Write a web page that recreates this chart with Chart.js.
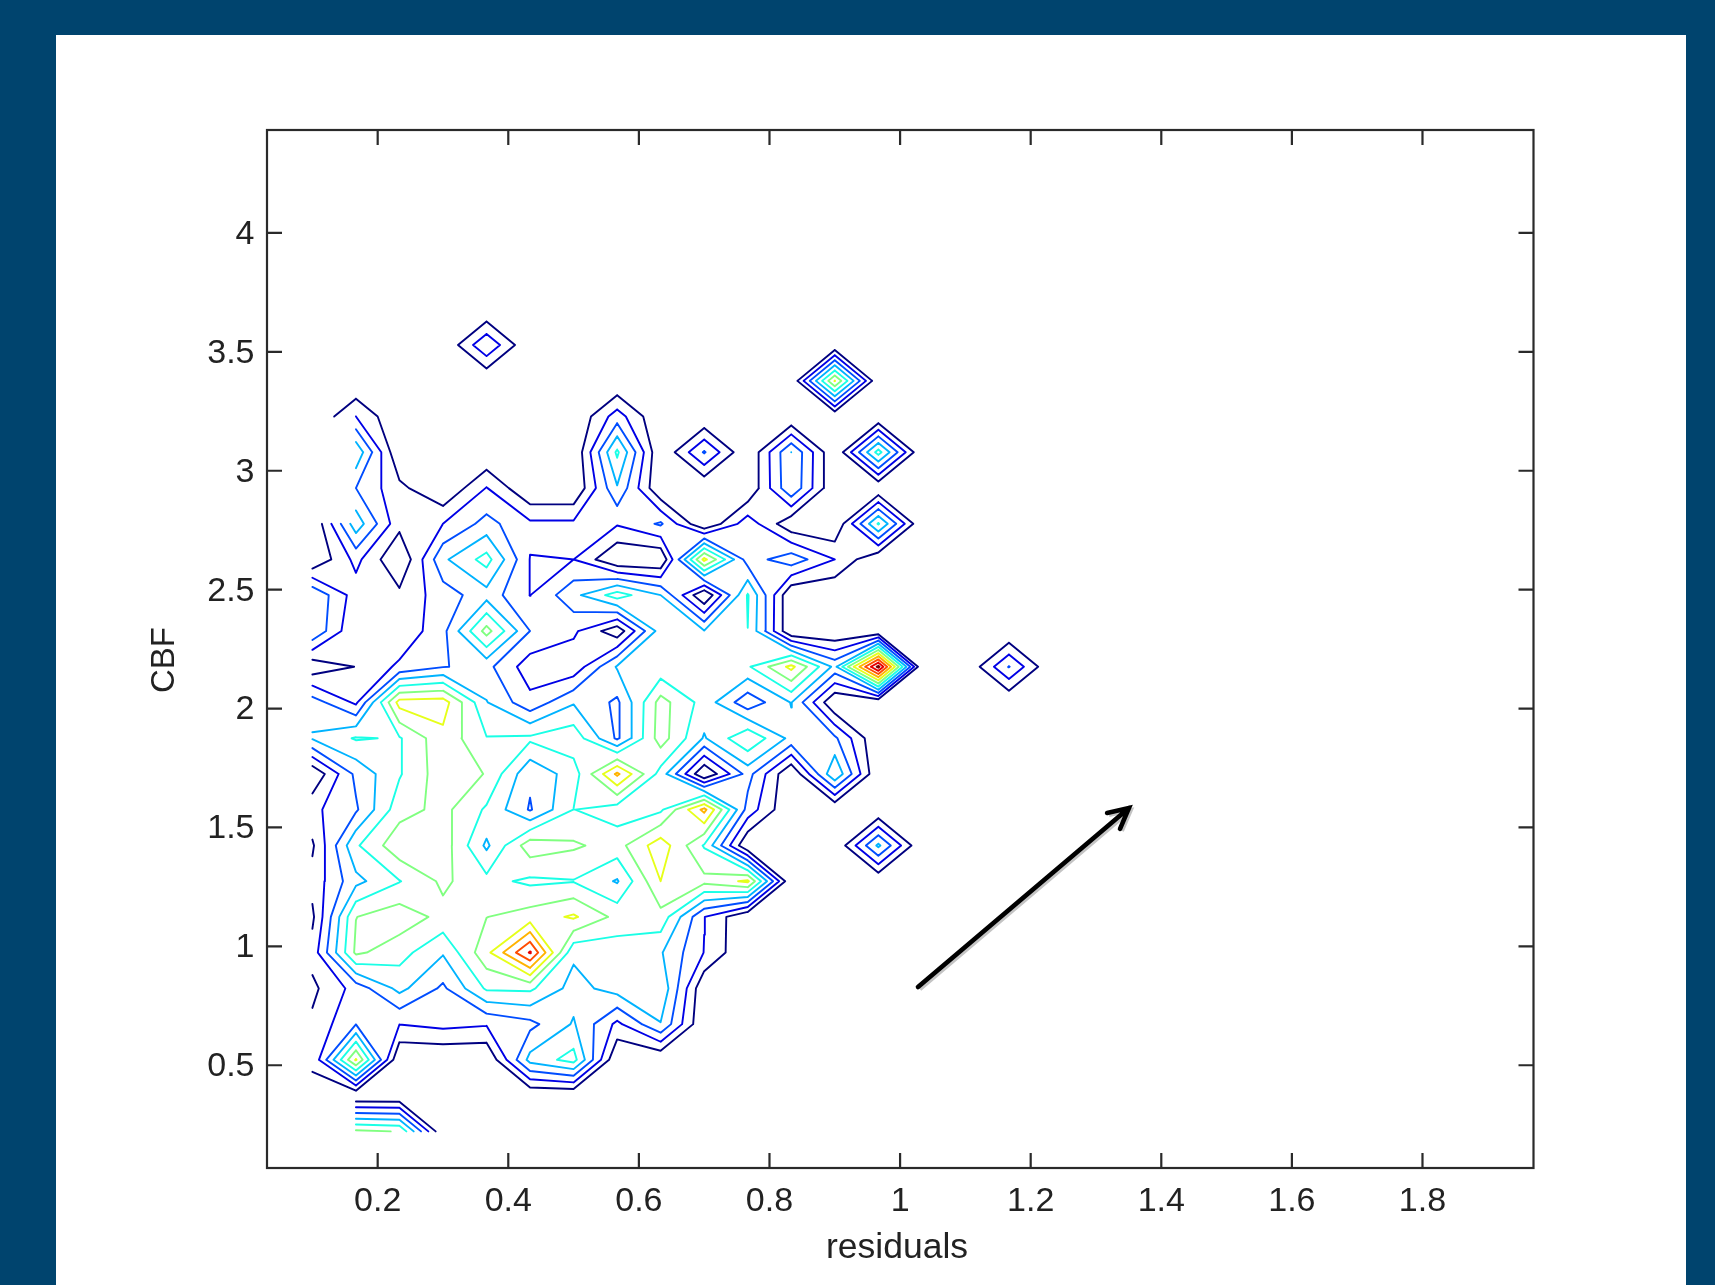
<!DOCTYPE html>
<html><head><meta charset="utf-8">
<style>
html,body{margin:0;padding:0;background:#00446e;width:1715px;height:1285px;overflow:hidden}
#panel{position:absolute;left:56px;top:35px;width:1630px;height:1250px;background:#fff}
#c{position:absolute;left:0;top:0;filter:blur(0.55px)}
</style>
<script src="https://cdn.jsdelivr.net/npm/chart.js@4"></script>
</head><body><div id="panel"></div><canvas id="c" width="1715" height="1285"></canvas>
<script>
const xTickValues=[0.2,0.4,0.6,0.8,1,1.2,1.4,1.6,1.8];
const yTickValues=[0.5,1,1.5,2,2.5,3,3.5,4];
const xTitle='residuals', yTitle='CBF';
const xGrid=[0.1,0.1667,0.2333,0.3,0.3667,0.4333,0.5,0.5667,0.6333,0.7,0.7667,0.8333,0.9,0.9667,1.0333,1.1,1.1667,1.2333];
const yGrid=[0.222,0.372,0.523,0.673,0.823,0.974,1.124,1.274,1.424,1.575,1.725,1.875,2.026,2.176,2.326,2.477,2.627,2.777,2.927,3.078,3.228,3.378,3.529,3.679];
const _=null;
const z00=[_,6.2,5.95,0,0,0,0,0,0,0,0,0,0,0,0,0,0,0];
const z01=[.8,0,0,0,0,0,0,0,0,0,0,0,0,0,0,0,0,0];
const z02=[1.1,7.1,0,0,0,4.35,5.4,0,0,0,0,0,0,0,0,0,0,0];
const z03=[1.2,2.97,2.02,2.3,2.1,2.7,4.1,1.75,3.95,0,0,0,0,0,0,0,0,0];
const z04=[.76,2.4,4.3,2.8,5.15,5.2,3.6,4.45,4.85,.1,0,0,0,0,0,0,0,0];
const z05=[1.4,6.2,5.4,4.1,6.7,10.1,4.2,4.4,4.1,1.97,0,0,0,0,0,0,0,0];
const z06=[.8,5.98,6.6,5.7,5.98,6.45,7.15,5.7,5.66,2.03,0,0,0,0,0,0,0,0];
const z07=[1.35,3.7,4.95,6.2,5.3,4.8,4.95,3.9,7,6.3,7.2,0,0,0,0,0,0,0];
const z08=[.85,4.85,6.7,6.56,3.8,6.6,6.15,5.6,7.6,4.9,0,0,0,4.2,0,0,0,0];
const z09=[1.75,2.85,5.6,6.3,4.85,2.9,5.02,4.47,4.8,8.3,2.6,0,0,0,0,0,0,0];
const z10=[.1,3.25,4.9,6.6,5.95,3.2,4.5,8.2,4.6,0,3.4,0,4.9,0,0,0,0,0];
const z11=[4.1,5.1,4.9,6.7,5.05,5.2,5.65,2.83,6.5,3.9,5.9,3.7,3.2,0,0,0,0,0];
const z12=[3.5,1.8,7.4,7.5,4.05,2.3,3.9,2.8,6.4,4.6,2.3,4.05,0,0,0,0,0,0];
const z13=[.3,1.03,2.2,2.95,3.3,1.44,1.3,4.1,4.3,4.4,4.85,7.3,3.7,11.3,0,0,3.05,0];
const z14=[3.9,1.05,1.2,2.7,6.4,3,2.2,.3,4.5,4.05,4.99,0,0,0,0,0,0,0];
const z15=[3.9,1.5,1.25,2.5,3.6,1.98,3.7,5.5,4,0,5.1,0,0,0,0,0,0,0];
const z16=[0,2.3,0,3.8,5.4,1.97,2,0,0,7.3,2.5,3.6,2,0,0,0,0,0];
const z17=[0,4.6,1.3,2,3.35,2.2,2.2,2.1,3.15,0,2.6,.2,0,5.1,0,0,0,0];
const z18=[_,3,1.28,0,2.05,0,0,3.9,0,0,0,3.9,0,0,0,0,0,0];
const z19=[_,4.8,0,0,0,0,0,5.2,0,3.1,0,4,0,5.4,0,0,0,0];
const z20=[0,2,0,0,0,0,0,2.5,0,0,0,0,0,0,0,0,0,0];
const z21=[0,0,0,0,0,0,0,0,0,0,0,0,7.05,0,0,0,0,0];
const z22=[0,0,0,0,2.9,0,0,0,0,0,0,0,0,0,0,0,0,0];
const z23=[0,0,0,0,0,0,0,0,0,0,0,0,0,0,0,0,0,0];
const zRows=[z00,z01,z02,z03,z04,z05,z06,z07,z08,z09,z10,z11,z12,z13,z14,z15,z16,z17,z18,z19,z20,z21,z22,z23];
const levels=[1,2,3,4,5,6,7,8,9,10,11];
const levelColors=['#000080','#0000e6','#004dff','#00b3ff','#1affe6','#80ff80','#e6ff1a','#ffb300','#ff4d00','#e60000','#800000'];
const arrowShaft=[[1.0274,0.829],[1.3505,1.582]];
const arrowHead=[[1.317,1.561],[1.3505,1.582],[1.3368,1.494]];

function contour(level){
  const pts=[];
  const cross=(i1,j1,i2,j2)=>{
    const a=zRows[j1][i1],b=zRows[j2][i2],t=(level-a)/(b-a);
    return {x:xGrid[i1]+t*(xGrid[i2]-xGrid[i1]),y:yGrid[j1]+t*(yGrid[j2]-yGrid[j1])};
  };
  const seg=(p,q)=>{pts.push(p,q,{x:q.x,y:null});};
  for(let j=0;j<yGrid.length-1;j++)for(let i=0;i<xGrid.length-1;i++){
    const a=zRows[j][i],b=zRows[j][i+1],c=zRows[j+1][i+1],d=zRows[j+1][i];
    if(a===null||b===null||c===null||d===null)continue;
    const A=a>=level,B=b>=level,C=c>=level,D=d>=level;
    const bottom=()=>cross(i,j,i+1,j),right=()=>cross(i+1,j,i+1,j+1),top=()=>cross(i,j+1,i+1,j+1),left=()=>cross(i,j,i,j+1);
    const k=(A?1:0)+(B?2:0)+(C?4:0)+(D?8:0);
    if(k===0||k===15)continue;
    const mid=(a+b+c+d)/4>=level;
    switch(k){
      case 1:case 14:seg(left(),bottom());break;
      case 2:case 13:seg(bottom(),right());break;
      case 3:case 12:seg(left(),right());break;
      case 4:case 11:seg(right(),top());break;
      case 6:case 9:seg(bottom(),top());break;
      case 7:case 8:seg(left(),top());break;
      case 5:if(mid){seg(left(),top());seg(bottom(),right());}else{seg(left(),bottom());seg(right(),top());}break;
      case 10:if(mid){seg(left(),bottom());seg(right(),top());}else{seg(left(),top());seg(bottom(),right());}break;
    }
  }
  return pts;
}
const toPts=a=>a.map(p=>({x:p[0],y:p[1]}));
const datasets=levels.map((l,n)=>({data:contour(l),borderColor:levelColors[n],borderWidth:1.9,showLine:true,pointRadius:0,spanGaps:false,borderCapStyle:'round',borderJoinStyle:'round',tension:0,order:20-n}));
const gap=p=>({x:p.x,y:null});
const shaft=toPts(arrowShaft),head=toPts(arrowHead);
const arrowPts=[...shaft,gap(shaft[1]),...head];
datasets.push({data:arrowPts.map(p=>({x:p.x+0.003,y:p.y===null?null:p.y-0.009})),borderColor:'#c4c4c4',borderWidth:4,showLine:true,pointRadius:0,spanGaps:false,order:1});
datasets.push({data:arrowPts,borderColor:'#000',borderWidth:4.6,showLine:true,pointRadius:0,spanGaps:false,borderCapStyle:'round',borderJoinStyle:'miter',order:0});

const fontFamily='"Liberation Sans",Arial,sans-serif';
const frame={id:'frame',afterDatasetsDraw(ch){
  const g=ch.ctx,a=ch.chartArea,x=ch.scales.x,y=ch.scales.y,L=15;
  g.save();g.strokeStyle='#2a2a2a';g.lineWidth=2.2;
  g.strokeRect(a.left,a.top,a.right-a.left,a.bottom-a.top);
  g.beginPath();
  xTickValues.forEach(v=>{const p=x.getPixelForValue(v);g.moveTo(p,a.bottom);g.lineTo(p,a.bottom-L);g.moveTo(p,a.top);g.lineTo(p,a.top+L);});
  yTickValues.forEach(v=>{const p=y.getPixelForValue(v);g.moveTo(a.left,p);g.lineTo(a.left+L,p);g.moveTo(a.right,p);g.lineTo(a.right-L,p);});
  g.stroke();
  g.fillStyle='#222';g.textAlign='center';g.textBaseline='middle';
  g.font='35.5px '+fontFamily;
  g.fillText(xTitle,897,1248);
  g.translate(165,660);g.rotate(-Math.PI/2);
  g.font='33px '+fontFamily;
  g.fillText(yTitle,0,0);
  g.restore();
}};
const font={family:fontFamily,size:34};
new Chart(document.getElementById('c'),{type:'scatter',data:{datasets},plugins:[frame],options:{
  responsive:false,animation:false,events:[],
  layout:{padding:{left:167,right:181.5,top:130,bottom:17}},
  plugins:{legend:{display:false},tooltip:{enabled:false},title:{display:false}},
  scales:{
    x:{type:'linear',min:0.0305,max:1.97,afterBuildTicks(s){s.ticks=xTickValues.map(value=>({value}));},afterFit(s){s.height=100;},
      grid:{display:false},border:{display:false},
      ticks:{color:'#222',font,padding:5.5,maxRotation:0,autoSkip:false,callback:v=>String(v)},
      title:{display:false}},
    y:{type:'linear',min:0.068,max:4.433,afterBuildTicks(s){s.ticks=yTickValues.map(value=>({value}));},afterFit(s){s.width=100;},
      grid:{display:false},border:{display:false},
      ticks:{color:'#222',font,padding:4.5,labelOffset:1.5,autoSkip:false,callback:v=>String(v)},
      title:{display:false}}
  }
}});
</script></body></html>
